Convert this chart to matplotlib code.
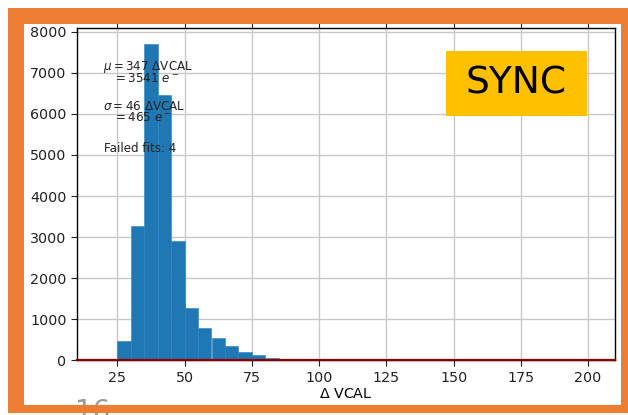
import numpy as np
import matplotlib.pyplot as plt
from matplotlib.patches import Rectangle

# histogram of delta VCAL, bins of 5 from 20 to 200
bin_edges = np.arange(20, 205, 5)
counts = [40, 460, 3260, 7700, 6460, 2900, 1285, 790, 540, 345, 200, 135, 65, 15, 5,
          3, 2, 1, 1, 0, 0, 0, 0, 0, 0, 0, 0, 0, 0, 0, 0, 0, 0, 0, 0, 0]
fit_x = [10, 210]
fit_y = [0, 0]

mu_text = [r'$\mu = 347\ \Delta$VCAL', r'$= 3541\ e^-$']
sigma_text = [r'$\sigma = 46\ \Delta$VCAL', r'$= 465\ e^-$']
failed_text = 'Failed fits: 4'

W, H = 628, 415
fig = plt.figure(figsize=(W / 100, H / 100), dpi=100)
fig.patch.set_facecolor('white')

def fx(px):
    return px / W

def fy(py):
    return 1 - py / H

ax = fig.add_axes([fx(77), fy(360.3), fx(615) - fx(77), fy(28.3) - fy(360.3)])
ax.hist(bin_edges[:-1], bins=bin_edges, weights=counts, color='#1f77b4',
        edgecolor='#2a82bf', linewidth=0.4, zorder=2)
ax.plot(fit_x, fit_y, color='#8b0000', lw=1.6, zorder=3, clip_on=False)
ax.set_xlim(10, 210)
ax.set_ylim(0, 8085)
ax.set_xticks([25, 50, 75, 100, 125, 150, 175, 200])
ax.set_yticks(range(0, 8001, 1000))
ax.grid(True, color='#c8c8c8', lw=1.0, zorder=0)
ax.set_axisbelow(True)
ax.tick_params(labelsize=10.3, colors='#222222', length=4)
ax.tick_params(axis='x', top=True, labeltop=False)
ax.set_xlabel(r'$\Delta$ VCAL', fontsize=10.3, labelpad=2)
for s in ax.spines.values():
    s.set_color('black')
    s.set_linewidth(1.0)

fs = 8.6
def put(px, py, s):
    ax.text(fx(px), fy(py), s, transform=fig.transFigure, fontsize=fs,
            va='center', ha='left', color='#222222', zorder=4)

put(103, 67, mu_text[0])
put(113, 78, mu_text[1])
put(103, 106, sigma_text[0])
put(113, 117, sigma_text[1])
put(104, 148, failed_text)

# SYNC label box
fig.patches.append(Rectangle((fx(446), fy(116)), fx(587) - fx(446), fy(51) - fy(116),
                             transform=fig.transFigure, facecolor='#FFC000',
                             edgecolor='none', zorder=5))
fig.text(fx(516.5), fy(83), 'SYNC', fontsize=27, ha='center', va='center',
         color='black', zorder=6)

# slide page number, partly hidden by the frame
fig.text(fx(75), fy(420), '16', fontsize=20, color='#9a9a9a', ha='left',
         va='baseline', zorder=1)

# orange slide frame
orange = '#ED7D31'
for x0, y0, x1, y1 in [(8, 8, 628, 24), (8, 8, 24, 413), (8, 405, 628, 413), (621, 8, 628, 413)]:
    fig.patches.append(Rectangle((fx(x0), fy(y1)), fx(x1) - fx(x0), fy(y0) - fy(y1),
                                 transform=fig.transFigure, facecolor=orange,
                                 edgecolor='none', zorder=10))

fig.savefig('out.png', dpi=100)
